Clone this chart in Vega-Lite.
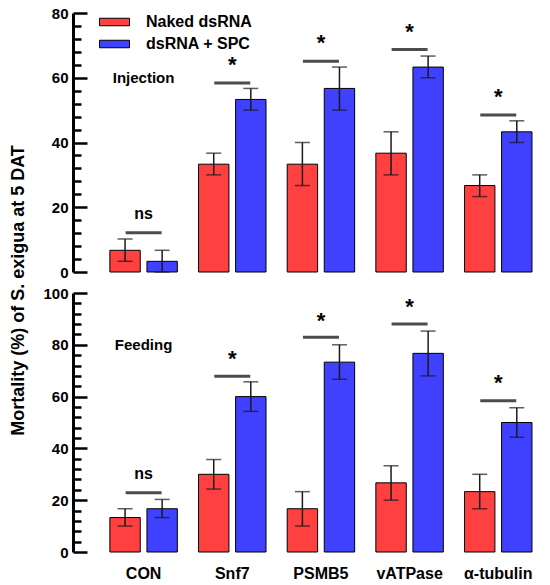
{
  "$schema": "https://vega.github.io/schema/vega-lite/v6.json",
  "background": "white",
  "padding": {"left": 9, "top": 6, "right": 5, "bottom": 5},
  "title": {
    "text": "Mortality (%) of S. exigua at 5 DAT",
    "orient": "left",
    "anchor": "middle",
    "font": "Liberation Sans",
    "fontSize": 18,
    "fontWeight": "bold",
    "color": "black",
    "offset": 15,
    "dx": 3
  },
  "datasets": {
    "bars": [
      {"panel": "Injection", "gene": "CON", "treatment": "Naked dsRNA", "mean": 6.7, "lo": 3.3, "hi": 10.2},
      {"panel": "Injection", "gene": "CON", "treatment": "dsRNA + SPC", "mean": 3.3, "lo": 0, "hi": 6.7},
      {"panel": "Injection", "gene": "Snf7", "treatment": "Naked dsRNA", "mean": 33.3, "lo": 30.0, "hi": 36.7},
      {"panel": "Injection", "gene": "Snf7", "treatment": "dsRNA + SPC", "mean": 53.3, "lo": 50.0, "hi": 56.7},
      {"panel": "Injection", "gene": "PSMB5", "treatment": "Naked dsRNA", "mean": 33.3, "lo": 26.7, "hi": 40.0},
      {"panel": "Injection", "gene": "PSMB5", "treatment": "dsRNA + SPC", "mean": 56.7, "lo": 50.0, "hi": 63.3},
      {"panel": "Injection", "gene": "vATPase", "treatment": "Naked dsRNA", "mean": 36.7, "lo": 30.0, "hi": 43.3},
      {"panel": "Injection", "gene": "vATPase", "treatment": "dsRNA + SPC", "mean": 63.3, "lo": 60.0, "hi": 66.7},
      {"panel": "Injection", "gene": "α-tubulin", "treatment": "Naked dsRNA", "mean": 26.7, "lo": 23.3, "hi": 30.0},
      {"panel": "Injection", "gene": "α-tubulin", "treatment": "dsRNA + SPC", "mean": 43.3, "lo": 40.0, "hi": 46.7},
      {"panel": "Feeding", "gene": "CON", "treatment": "Naked dsRNA", "mean": 13.3, "lo": 10.0, "hi": 16.7},
      {"panel": "Feeding", "gene": "CON", "treatment": "dsRNA + SPC", "mean": 16.7, "lo": 13.3, "hi": 20.3},
      {"panel": "Feeding", "gene": "Snf7", "treatment": "Naked dsRNA", "mean": 30.0, "lo": 24.3, "hi": 35.7},
      {"panel": "Feeding", "gene": "Snf7", "treatment": "dsRNA + SPC", "mean": 60.0, "lo": 54.3, "hi": 65.7},
      {"panel": "Feeding", "gene": "PSMB5", "treatment": "Naked dsRNA", "mean": 16.7, "lo": 10.0, "hi": 23.3},
      {"panel": "Feeding", "gene": "PSMB5", "treatment": "dsRNA + SPC", "mean": 73.3, "lo": 66.7, "hi": 80.0},
      {"panel": "Feeding", "gene": "vATPase", "treatment": "Naked dsRNA", "mean": 26.7, "lo": 20.0, "hi": 33.3},
      {"panel": "Feeding", "gene": "vATPase", "treatment": "dsRNA + SPC", "mean": 76.7, "lo": 68.0, "hi": 85.3},
      {"panel": "Feeding", "gene": "α-tubulin", "treatment": "Naked dsRNA", "mean": 23.3, "lo": 16.7, "hi": 30.0},
      {"panel": "Feeding", "gene": "α-tubulin", "treatment": "dsRNA + SPC", "mean": 50.0, "lo": 44.3, "hi": 55.7}
    ],
    "sig": [
      {"panel": "Injection", "gene": "CON", "line": 12.1, "mark": 18, "label": "ns"},
      {"panel": "Injection", "gene": "Snf7", "line": 58.4, "mark": 64, "label": "*"},
      {"panel": "Injection", "gene": "PSMB5", "line": 65.1, "mark": 70.8, "label": "*"},
      {"panel": "Injection", "gene": "vATPase", "line": 68.7, "mark": 74.2, "label": "*"},
      {"panel": "Injection", "gene": "α-tubulin", "line": 48.5, "mark": 54, "label": "*"},
      {"panel": "Feeding", "gene": "CON", "line": 22.9, "mark": 30, "label": "ns"},
      {"panel": "Feeding", "gene": "Snf7", "line": 67.9, "mark": 74.7, "label": "*"},
      {"panel": "Feeding", "gene": "PSMB5", "line": 82.9, "mark": 89.3, "label": "*"},
      {"panel": "Feeding", "gene": "vATPase", "line": 88.0, "mark": 94.5, "label": "*"},
      {"panel": "Feeding", "gene": "α-tubulin", "line": 58.4, "mark": 65.2, "label": "*"}
    ],
    "labels": [
      {"panel": "Injection", "gene": "CON", "y": 60, "text": "Injection"},
      {"panel": "Feeding", "gene": "CON", "y": 80, "text": "Feeding"}
    ]
  },
  "spacing": 6,
  "resolve": {"legend": {"color": "independent"}},
  "vconcat": [
    {
      "width": 470,
      "height": 259,
      "resolve": {"axis": {"y": "independent"}},
      "layer": [
        {
          "data": {"name": "bars"},
          "transform": [{"filter": "datum.panel == 'Injection'"}],
          "mark": {"type": "bar", "stroke": "black", "strokeWidth": 1},
          "encoding": {
            "x": {"field": "gene", "type": "nominal", "axis": null,
              "scale": {"domain": ["CON", "Snf7", "PSMB5", "vATPase", "α-tubulin"], "paddingInner": 0.239, "paddingOuter": 0.27, "align": 0.77}},
            "xOffset": {"field": "treatment", "type": "nominal",
              "scale": {"domain": ["Naked dsRNA", "dsRNA + SPC"], "paddingInner": 0.18, "paddingOuter": 0}},
            "y": {"field": "mean", "type": "quantitative", "title": null,
              "scale": {"domain": [0, 80], "nice": false},
              "axis": {"orient": "left", "values": [0, 20, 40, 60, 80], "ticks": true, "tickSize": -14, "tickColor": "black", "tickWidth": 2.5, "tickOpacity": 1, "labelPadding": 19, "gridOpacity": 0, "zindex": 1}},
            "color": {"field": "treatment", "type": "nominal",
              "scale": {"domain": ["Naked dsRNA", "dsRNA + SPC"], "range": ["#FF4040", "#4040FF"]},
              "legend": {
                "orient": "none", "legendX": 33.5, "legendY": 1, "title": null, "padding": 0,
                "symbolType": "M-2,-0.5H2V0.5H-2Z", "symbolSize": 225,
                "symbolStrokeColor": "black", "symbolStrokeWidth": 1, "symbolOpacity": 1,
                "labelFont": "Liberation Sans", "labelFontSize": 16, "labelFontWeight": "bold", "labelColor": "black",
                "labelOffset": 23.5, "rowPadding": 6
              }}
          }
        },
        {
          "data": {"name": "bars"},
          "transform": [{"filter": "datum.panel == 'Injection'"}],
          "mark": {"type": "rule", "color": "#1a1a1a", "strokeWidth": 1.5},
          "encoding": {
            "x": {"field": "gene", "type": "nominal"},
            "xOffset": {"field": "treatment", "type": "nominal"},
            "y": {"field": "lo", "type": "quantitative", "title": null,
              "axis": {"orient": "left", "values": [4, 8, 12, 16, 24, 28, 32, 36, 44, 48, 52, 56, 64, 68, 72, 76], "labels": false, "domain": false, "ticks": true, "tickSize": -8, "tickColor": "black", "tickWidth": 2.5, "tickOpacity": 1, "gridOpacity": 0, "zindex": 1}},
            "y2": {"field": "hi"}
          }
        },
        {
          "data": {"name": "bars"},
          "transform": [{"filter": "datum.panel == 'Injection'"}],
          "mark": {"type": "tick", "orient": "horizontal", "color": "#1a1a1a", "size": 15, "thickness": 1.5},
          "encoding": {
            "x": {"field": "gene", "type": "nominal"},
            "xOffset": {"field": "treatment", "type": "nominal"},
            "y": {"field": "hi", "type": "quantitative", "axis": null}
          }
        },
        {
          "data": {"name": "bars"},
          "transform": [{"filter": "datum.panel == 'Injection'"}],
          "mark": {"type": "tick", "orient": "horizontal", "color": "#1a1a1a", "size": 15, "thickness": 1.5},
          "encoding": {
            "x": {"field": "gene", "type": "nominal"},
            "xOffset": {"field": "treatment", "type": "nominal"},
            "y": {"field": "lo", "type": "quantitative", "axis": null}
          }
        },
        {
          "data": {"name": "sig"},
          "transform": [{"filter": "datum.panel == 'Injection'"}],
          "mark": {"type": "tick", "orient": "horizontal", "color": "black", "size": 36, "thickness": 3},
          "encoding": {
            "x": {"field": "gene", "type": "nominal"},
            "y": {"field": "line", "type": "quantitative", "axis": null}
          }
        },
        {
          "data": {"name": "sig"},
          "transform": [{"filter": "datum.panel == 'Injection'"}],
          "mark": {"type": "text", "font": "Liberation Sans", "fontWeight": "bold", "color": "black", "baseline": "middle"},
          "encoding": {
            "x": {"field": "gene", "type": "nominal"},
            "y": {"field": "mark", "type": "quantitative", "axis": null},
            "text": {"field": "label"},
            "size": {"condition": {"test": "datum.label == '*'", "value": 22}, "value": 16}
          }
        },
        {
          "data": {"name": "labels"},
          "transform": [{"filter": "datum.panel == 'Injection'"}],
          "mark": {"type": "text", "font": "Liberation Sans", "fontWeight": "bold", "fontSize": 15, "color": "black", "baseline": "middle"},
          "encoding": {
            "x": {"field": "gene", "type": "nominal"},
            "y": {"field": "y", "type": "quantitative", "axis": null},
            "text": {"field": "text"}
          }
        }
      ]
    },
    {
      "width": 470,
      "height": 259,
      "resolve": {"axis": {"y": "independent"}},
      "layer": [
        {
          "data": {"name": "bars"},
          "transform": [{"filter": "datum.panel == 'Feeding'"}],
          "mark": {"type": "bar", "stroke": "black", "strokeWidth": 1},
          "encoding": {
            "x": {"field": "gene", "type": "nominal", "title": null,
              "scale": {"domain": ["CON", "Snf7", "PSMB5", "vATPase", "α-tubulin"], "paddingInner": 0.239, "paddingOuter": 0.27, "align": 0.77},
              "axis": {"domain": false, "ticks": false, "labelAngle": 0, "labelPadding": 13, "labelFontSize": 16}},
            "xOffset": {"field": "treatment", "type": "nominal",
              "scale": {"domain": ["Naked dsRNA", "dsRNA + SPC"], "paddingInner": 0.18, "paddingOuter": 0}},
            "y": {"field": "mean", "type": "quantitative", "title": null,
              "scale": {"domain": [0, 100], "nice": false},
              "axis": {"orient": "left", "values": [0, 20, 40, 60, 80, 100], "ticks": true, "tickSize": -14, "tickColor": "black", "tickWidth": 2.5, "tickOpacity": 1, "labelPadding": 19, "gridOpacity": 0, "zindex": 1}},
            "color": {"field": "treatment", "type": "nominal",
              "scale": {"domain": ["Naked dsRNA", "dsRNA + SPC"], "range": ["#FF4040", "#4040FF"]},
              "legend": null}
          }
        },
        {
          "data": {"name": "bars"},
          "transform": [{"filter": "datum.panel == 'Feeding'"}],
          "mark": {"type": "rule", "color": "#1a1a1a", "strokeWidth": 1.5},
          "encoding": {
            "x": {"field": "gene", "type": "nominal"},
            "xOffset": {"field": "treatment", "type": "nominal"},
            "y": {"field": "lo", "type": "quantitative", "title": null,
              "axis": {"orient": "left", "values": [4, 8, 12, 16, 24, 28, 32, 36, 44, 48, 52, 56, 64, 68, 72, 76, 84, 88, 92, 96], "labels": false, "domain": false, "ticks": true, "tickSize": -8, "tickColor": "black", "tickWidth": 2.5, "tickOpacity": 1, "gridOpacity": 0, "zindex": 1}},
            "y2": {"field": "hi"}
          }
        },
        {
          "data": {"name": "bars"},
          "transform": [{"filter": "datum.panel == 'Feeding'"}],
          "mark": {"type": "tick", "orient": "horizontal", "color": "#1a1a1a", "size": 15, "thickness": 1.5},
          "encoding": {
            "x": {"field": "gene", "type": "nominal"},
            "xOffset": {"field": "treatment", "type": "nominal"},
            "y": {"field": "hi", "type": "quantitative", "axis": null}
          }
        },
        {
          "data": {"name": "bars"},
          "transform": [{"filter": "datum.panel == 'Feeding'"}],
          "mark": {"type": "tick", "orient": "horizontal", "color": "#1a1a1a", "size": 15, "thickness": 1.5},
          "encoding": {
            "x": {"field": "gene", "type": "nominal"},
            "xOffset": {"field": "treatment", "type": "nominal"},
            "y": {"field": "lo", "type": "quantitative", "axis": null}
          }
        },
        {
          "data": {"name": "sig"},
          "transform": [{"filter": "datum.panel == 'Feeding'"}],
          "mark": {"type": "tick", "orient": "horizontal", "color": "black", "size": 36, "thickness": 3},
          "encoding": {
            "x": {"field": "gene", "type": "nominal"},
            "y": {"field": "line", "type": "quantitative", "axis": null}
          }
        },
        {
          "data": {"name": "sig"},
          "transform": [{"filter": "datum.panel == 'Feeding'"}],
          "mark": {"type": "text", "font": "Liberation Sans", "fontWeight": "bold", "color": "black", "baseline": "middle"},
          "encoding": {
            "x": {"field": "gene", "type": "nominal"},
            "y": {"field": "mark", "type": "quantitative", "axis": null},
            "text": {"field": "label"},
            "size": {"condition": {"test": "datum.label == '*'", "value": 22}, "value": 16}
          }
        },
        {
          "data": {"name": "labels"},
          "transform": [{"filter": "datum.panel == 'Feeding'"}],
          "mark": {"type": "text", "font": "Liberation Sans", "fontWeight": "bold", "fontSize": 15, "color": "black", "baseline": "middle"},
          "encoding": {
            "x": {"field": "gene", "type": "nominal"},
            "y": {"field": "y", "type": "quantitative", "axis": null},
            "text": {"field": "text"}
          }
        }
      ]
    }
  ],
  "config": {
    "view": {"stroke": null},
    "font": "Liberation Sans",
    "axis": {
      "labelFont": "Liberation Sans",
      "labelFontSize": 15,
      "labelFontWeight": "bold",
      "labelColor": "black",
      "domainColor": "black",
      "domainWidth": 3
    }
  }
}
